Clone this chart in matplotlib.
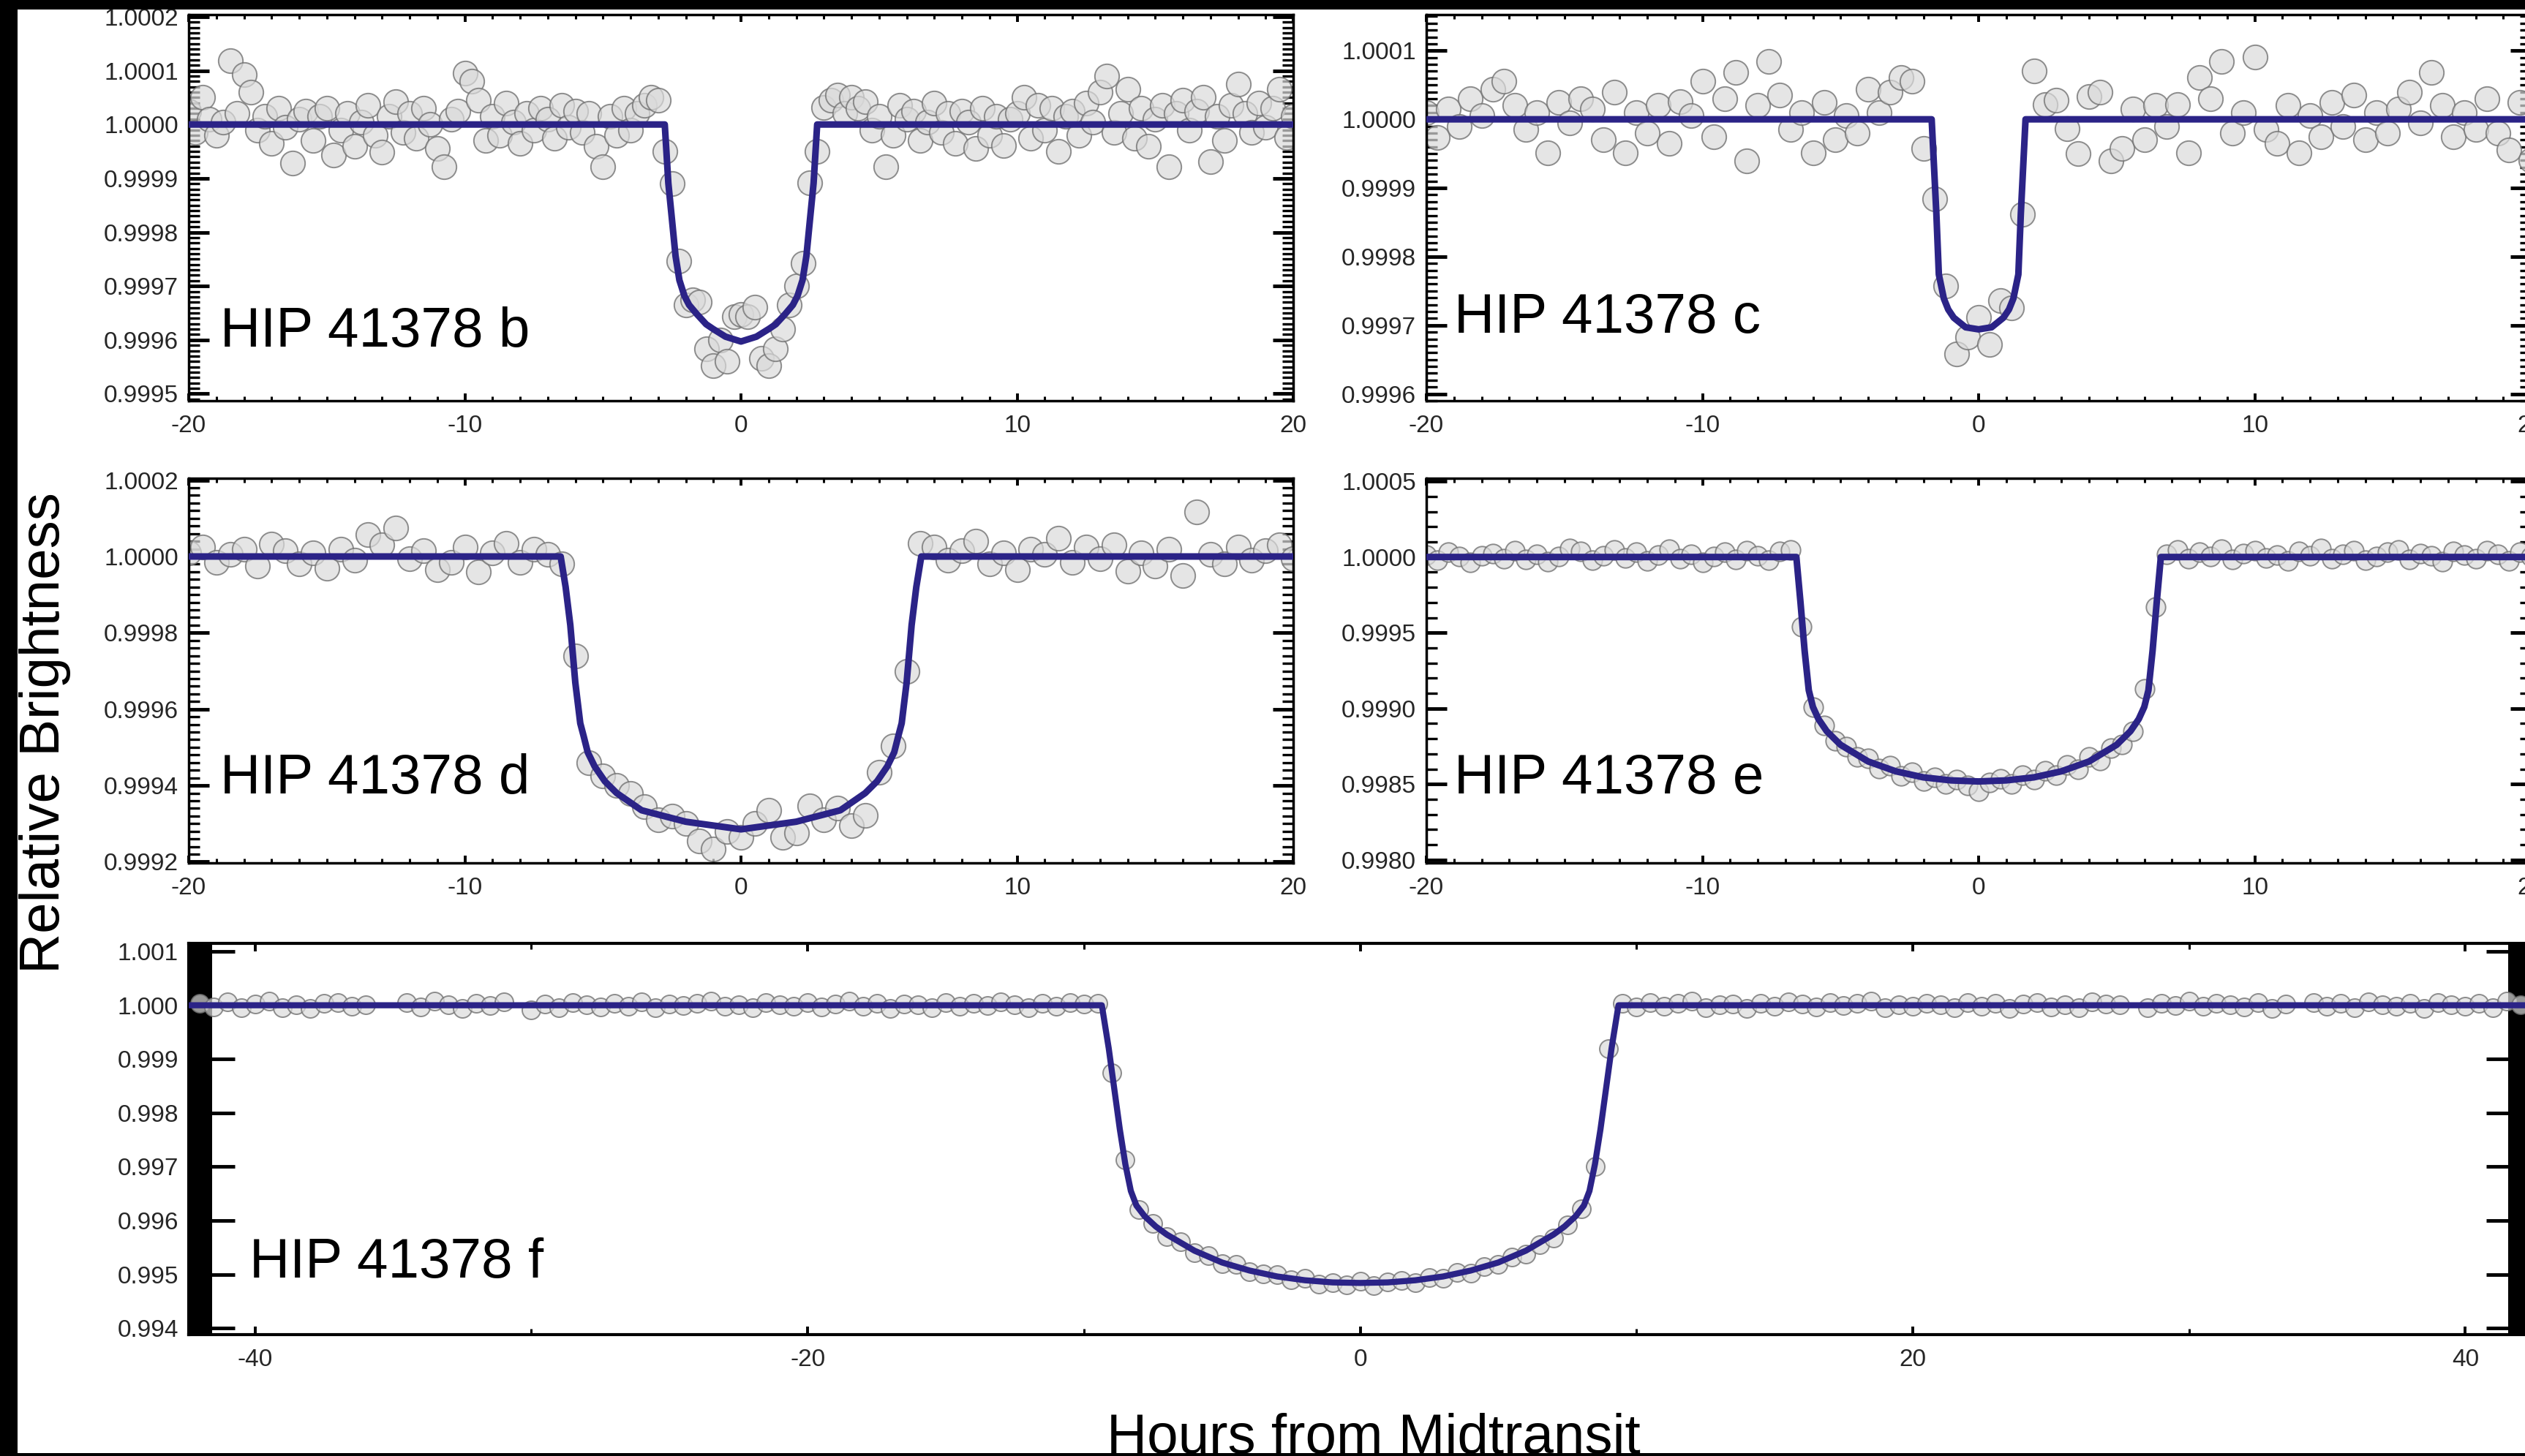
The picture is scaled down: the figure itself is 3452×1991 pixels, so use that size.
import numpy as np
import matplotlib
matplotlib.use("Agg")
import matplotlib.pyplot as plt
from matplotlib.ticker import MultipleLocator, FormatStrFormatter
from matplotlib.patches import Rectangle

plt.rcParams['font.family'] = ['Liberation Sans', 'DejaVu Sans']
plt.rcParams['axes.unicode_minus'] = False

# ---- binned light curves, flux offsets in ppm ----
# HIP 41378 b : bins every 0.25 h from -20 to 20
b_ppm = [
    25, -15, 50, 10,
    -20, 5, 119, 20,
    93, 60, -10, 15,
    -35, 30, -5, -72,
    10, 25, -30, 15,
    30, -57, -10, 20,
    -40, 5, 35, -20,
    -51, 15, 42, -15,
    20, -25, 30, 0,
    -45, -78, 10, 25,
    96, 81, 45, -30,
    15, -20, 40, 5,
    -35, 20, -10, 30,
    10, -25, 35, -5,
    25, -15, 20, -40,
    -78, 15, -20, 30,
    -10, 20, 35, 51,
    45, -50, -110, -253,
    -335, -326, -330, -416,
    -448, -400, -439, -357,
    -353, -357, -339, -434,
    -448, -416, -380, -335,
    -300, -258, -109, -50,
    32, 45, 55, 20,
    51, 30, 42, -10,
    15, -78, -20, 35,
    10, 25, -30, 5,
    40, -15, 20, -35,
    25, 5, -45, 30,
    -20, 15, -39, 10,
    20, 51, -25, 35,
    -10, 30, -50, 15,
    25, -20, 40, 5,
    60, 90, -15, 20,
    66, -25, 30, -40,
    10, 35, -78, 20,
    45, -10, 25, 50,
    -69, 15, -30, 35,
    75, 20, -15, 40,
    -5, 30, 66, -24,
    15,
]
b_model_t = [-20, -2.76, -2.63, -2.5, -2.37, -2.23, -2.05, -1.88, -1.6, -1.26, -1.0, -0.56, 0,
             0.56, 1.0, 1.26, 1.6, 1.88, 2.05, 2.23, 2.37, 2.5, 2.63, 2.76, 20]
b_model_ppm = [0, 0, -109, -176, -244, -289, -318, -335, -352, -371, -380, -394, -403,
               -394, -380, -371, -352, -335, -318, -289, -244, -176, -109, 0, 0]

# HIP 41378 c : bins every 0.4 h
c_ppm = [
    10, -26, 15, -10, 30,
    5, 44, 56, 20, -15,
    10, -49, 25, -5, 30,
    15, -30, 40, -49, 10,
    -20, 20, -35, 26, 5,
    56, -25, 30, 68, -61,
    20, 84, 35, -15, 10,
    -49, 25, -30, 5, -20,
    44, 10, 40, 61, 56,
    -42, -116, -243, -342, -317,
    -289, -328, -264, -275, -138,
    70, 21, 28, -14, -50,
    33, 40, -61, -42, 15,
    -30, 20, -10, 21, -49,
    61, 30, 84, -20, 10,
    91, -15, -35, 20, -49,
    5, -25, 25, -10, 35,
    -30, 10, -20, 15, 40,
    -5, 68, 20, -25, 10,
    -15, 30, -20, -45, 25,
    -60,
]
c_model_t = [-20, -1.70, -1.53, -1.44, -1.26, -1.10, -0.90, -0.47, 0,
             0.47, 0.90, 1.10, 1.26, 1.44, 1.53, 1.70, 20]
c_model_ppm = [0, 0, -137, -226, -261, -277, -289, -303, -306,
               -303, -289, -277, -261, -226, -137, 0, 0]

# HIP 41378 d : bins every 0.5 h
d_ppm = [
    10, 25, -15, 5,
    20, -25, 33, 15,
    -20, 10, -30, 20,
    -10, 58, 30, 75,
    -5, 15, -35, -15,
    25, -40, 10, 35,
    -15, 20, 5, -20,
    -260, -540, -575, -600,
    -620, -655, -690, -680,
    -700, -745, -767, -720,
    -735, -700, -665, -735,
    -725, -653, -690, -660,
    -705, -678, -565, -496,
    -300, 35, 25, -10,
    15, 41, -20, 10,
    -35, 20, 5, 47,
    -15, 25, -5, 30,
    -38, 10, -25, 20,
    -50, 117, 5, -20,
    25, -10, 15, 30,
    -5,
]
d_model_t = [-20, -6.53, -6.35, -6.18, -6.0, -5.82, -5.7, -5.55, -5.3, -4.93, -4.5, -3.6, -2, 0,
             2, 3.6, 4.5, 4.93, 5.3, 5.55, 5.7, 5.82, 6.0, 6.18, 6.35, 6.53, 20]
d_model_ppm = [0, 0, -80, -180, -330, -437, -470, -513, -550, -589, -620, -665, -695, -715,
               -695, -665, -620, -589, -550, -513, -470, -437, -330, -180, -80, 0, 0]

# HIP 41378 e : bins every 0.4 h
e_ppm = [
    15, -20, 30, 5, -35, 10, 25, -10, 40, -15,
    20, -30, 5, 55, 35, -20, 10, 45, -5, 30,
    -25, 15, 50, -10, 20, -35, 5, 30, -15, 40,
    10, -20, 35, 45, -458, -990, -1110, -1215, -1250, -1320,
    -1330, -1395, -1380, -1445, -1420, -1480, -1455, -1500, -1470, -1510,
    -1545, -1490, -1465, -1500, -1440, -1470, -1410, -1440, -1375, -1400,
    -1320, -1345, -1260, -1240, -1150, -870, -330, 20, 45, -10,
    30, 5, 50, -15, 25, 40, -5, 15, -25, 35,
    10, 55, -10, 20, 40, -20, 5, 30, 45, -15,
    25, 10, -30, 35, 15, -10, 40, 20, -25, 30,
    5,
]
e_model_t = [-20, -6.6, -6.45, -6.3, -6.15, -6.0, -5.8, -5.5, -5, -4, -3, -2, -1, 0,
             1, 2, 3, 4, 5, 5.5, 5.8, 6.0, 6.15, 6.3, 6.45, 6.6, 20]
e_model_ppm = [0, 0, -300, -620, -880, -990, -1070, -1150, -1240, -1350, -1415, -1455, -1475, -1482,
               -1475, -1455, -1415, -1350, -1240, -1150, -1070, -990, -880, -620, -300, 0, 0]

# HIP 41378 f : bins every 0.5 h from -42 to 42 (nan = gap in the data)
nan = np.nan
f_ppm = [
    40, -30, 60, -50,
    20, 75, -40, 10,
    -60, 30, 50, -20,
    10, nan, nan, 45,
    -35, 70, 15, -55,
    35, -10, 60, nan,
    -80, 20, -45, 55,
    10, -30, 40, -15,
    65, -40, 25, -10,
    30, 80, -25, 15,
    -50, 45, 10, -20,
    55, -35, 20, 70,
    -15, 40, -60, 25,
    10, -40, 50, -20,
    35, -10, 60, 15,
    -45, 30, -20, 50,
    20, 30, -1250, -2870,
    -3800, -4050, -4300, -4400,
    -4600, -4650, -4800, -4820,
    -4950, -4990, -5000, -5100,
    -5080, -5180, -5150, -5200,
    -5130, -5210, -5140, -5110,
    -5150, -5060, -5080, -4960,
    -4980, -4860, -4820, -4680,
    -4620, -4450, -4320, -4080,
    -3780, -3000, -800, 40,
    -30, 55, -20, 35,
    70, -45, 10, 25,
    -60, 40, -15, 60,
    20, -35, 45, -10,
    30, 75, -50, 15,
    -25, 40, 10, -40,
    55, -15, 30, -65,
    20, 45, -30, 10,
    -45, 65, 20, 15,
    nan, -50, 35, -10,
    70, -25, 40, 10,
    -35, 55, -60, 25,
    nan, 45, -20, 30,
    -40, 60, 15, -25,
    35, -55, 50, 10,
    -20, 40, -45, 70,
    15,
]
f_model_t = [-42.4, -9.35, -9.1, -8.9, -8.7, -8.5, -8.3, -8.1, -7.8, -7.4, -7, -6, -5, -4, -3, -2, -1, 0,
             1, 2, 3, 4, 5, 6, 7, 7.4, 7.8, 8.1, 8.3, 8.5, 8.7, 8.9, 9.1, 9.35, 42.4]
f_model_ppm = [0, 0, -800, -1550, -2300, -2950, -3450, -3720, -3920, -4110, -4260, -4560, -4780, -4930,
               -5040, -5110, -5150, -5160, -5150, -5110, -5040, -4930, -4780, -4560, -4260, -4110,
               -3920, -3720, -3450, -2950, -2300, -1550, -800, 0, 0]

labels = ["HIP 41378 b", "HIP 41378 c", "HIP 41378 d", "HIP 41378 e", "HIP 41378 f"]

W, H = 3452, 1991
fig = plt.figure(figsize=(W / 100, H / 100), dpi=100)
fig.patch.set_facecolor('white')

LINE = '#2b2387'
TXT = '#262626'


def draw_panel(rect, tlim, ppm, mt, mppm, ylim, ymaj, ymin, yfmt, xmaj, xmin,
               label, lab_xy, ms, ylen=(20, 11), yminw=2.4, xlen=(7, 4), spw=2.5, lw=6.5):
    ax = fig.add_axes(rect)
    t = np.linspace(tlim[0], tlim[1], len(ppm))
    flux = 1 + np.array(ppm, dtype=float) * 1e-6
    ax.plot(t, flux, 'o', ms=ms, mfc=(0.86, 0.86, 0.86, 0.7), mec=(0.45, 0.45, 0.45, 0.8),
            mew=1.4, zorder=2)
    ax.plot(mt, 1 + np.array(mppm) * 1e-6, color=LINE, lw=lw, zorder=3,
            solid_joinstyle='round')
    ax.set_ylim(*ylim)
    ax.set_xlim(mt[0] if mt[0] < -40 else -20, mt[-1] if mt[-1] > 40 else 20)
    ax.yaxis.set_major_locator(MultipleLocator(ymaj))
    ax.yaxis.set_minor_locator(MultipleLocator(ymin))
    ax.yaxis.set_major_formatter(FormatStrFormatter(yfmt))
    ax.xaxis.set_major_locator(MultipleLocator(xmaj))
    ax.xaxis.set_minor_locator(MultipleLocator(xmin))
    ax.tick_params(which='both', direction='in', top=True, right=True, colors='black',
                   labelcolor=TXT, labelsize=24)
    ax.tick_params(axis='y', which='major', length=ylen[0], width=3.5, pad=10)
    ax.tick_params(axis='y', which='minor', length=ylen[1], width=yminw)
    ax.tick_params(axis='x', which='major', length=xlen[0], width=2.8, pad=14)
    ax.tick_params(axis='x', which='minor', length=xlen[1], width=2.2)
    for s in ax.spines.values():
        s.set_linewidth(spw)
    ax.text(lab_xy[0], lab_xy[1], label, transform=ax.transAxes, fontsize=55,
            color='black', ha='left', va='baseline', zorder=5)
    return ax


top_b, h_top = (H - 548) / H, 528 / H
bot_d, h_mid = (H - 1180) / H, 526 / H
wl = 1510 / W
draw_panel([258 / W, top_b, wl, h_top], (-20, 20), b_ppm, b_model_t, b_model_ppm,
           (0.999487, 1.000204), 0.0001, 0.00001, '%.4f', 10, 1,
           labels[0], (0.0285, 0.14), 24)
draw_panel([1950 / W, top_b, wl, h_top], (-20, 20), c_ppm, c_model_t, c_model_ppm,
           (0.999590, 1.0001525), 0.0001, 0.00001, '%.4f', 10, 1,
           labels[1], (0.025, 0.176), 24)
draw_panel([258 / W, bot_d, wl, h_mid], (-20, 20), d_ppm, d_model_t, d_model_ppm,
           (0.999197, 1.000205), 0.0002, 0.00002, '%.4f', 10, 1,
           labels[2], (0.0285, 0.18), 24)
draw_panel([1950 / W, bot_d, wl, h_mid], (-20, 20), e_ppm, e_model_t, e_model_ppm,
           (0.99798, 1.00052), 0.0005, 0.0001, '%.4f', 10, 1,
           labels[3], (0.025, 0.18), 19)
draw_panel([258 / W, (H - 1825) / H, 3203 / W, 535 / H], (-42, 42), f_ppm, f_model_t, f_model_ppm,
           (0.99388, 1.00115), 0.001, 0.00002, '%.3f', 20, 10,
           labels[4], (0.026, 0.146), 18, ylen=(45, 23), yminw=1.6, xlen=(8, 6), spw=3, lw=6)

fig.text(62 / W, 1 - 1002 / H, "Relative Brightness", rotation=90, fontsize=55,
         ha='center', va='center', color='black')
fig.text(1878 / W, 4 / H, "Hours from Midtransit", fontsize=55,
         ha='center', va='baseline', color='black')

# dark frame around the scanned figure
for r in [(0, 0, 24 / W, 1), (0, 1 - 13 / H, 1, 13 / H), (0, 0, 1, 4 / H)]:
    fig.add_artist(Rectangle(r[:2], r[2], r[3], transform=fig.transFigure,
                             facecolor='black', edgecolor='none', zorder=20))

fig.savefig('out.png', dpi=100)
